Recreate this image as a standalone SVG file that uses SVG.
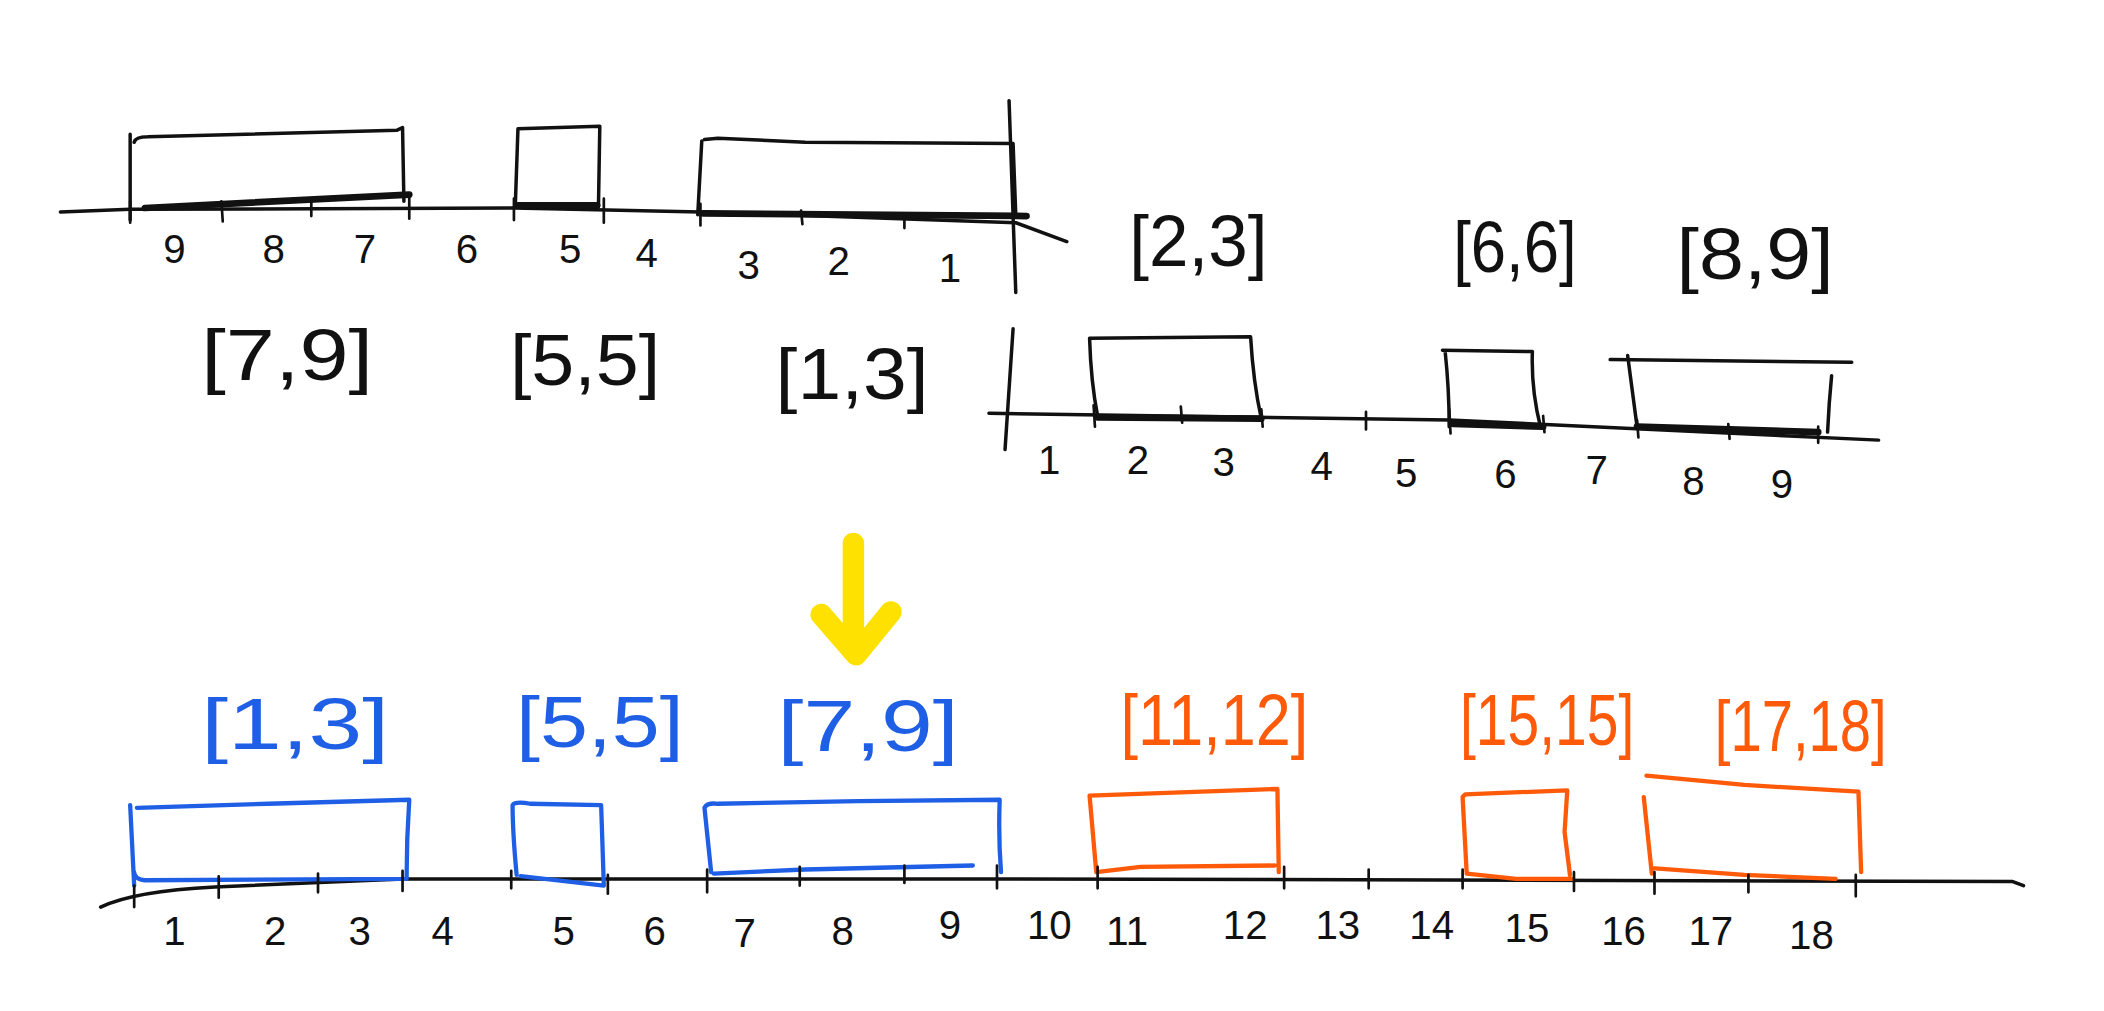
<svg xmlns="http://www.w3.org/2000/svg" width="2104" height="1011" viewBox="0 0 2104 1011">
<style>
.k{fill:none;stroke:#111;stroke-width:2.6;stroke-linecap:round;stroke-linejoin:round}
.kt{fill:none;stroke:#111;stroke-width:5;stroke-linecap:round}
.tk{fill:none;stroke:#111;stroke-width:2;stroke-linecap:round}
.b{fill:none;stroke:#1f5fe6;stroke-width:3.2;stroke-linecap:round;stroke-linejoin:round}
.o{fill:none;stroke:#ff5a0a;stroke-width:3.2;stroke-linecap:round;stroke-linejoin:round}
.n{font-family:"Liberation Sans",Arial,sans-serif;font-size:30px;fill:#111;text-anchor:middle}
.lb{font-family:"Liberation Sans",Arial,sans-serif;font-size:54px;text-anchor:middle}
</style>
<rect width="2104" height="1011" fill="#fff"/>
<g transform="scale(1.34184)">
<!-- connectors / axes -->
<g id="connectors">
<path class="k" d="M45,158 L97,156 L383,155 L522,158 L757,166 L795,180"/>
<path class="k" d="M752,75 L757,218"/>
<path class="k" d="M755,245 L749,335"/>
<path class="k" d="M737,308 L1080,313 L1400,328"/>
<path class="k" d="M75,676 Q100,664 160,661 L300,655 L760,655 L1500,657 L1508,660"/>
<path d="M636,405 L636,478 M612,458 L638,488 L664,456" fill="none" stroke="#ffe100" stroke-width="16" stroke-linecap="round" stroke-linejoin="round"/>
</g>
<!-- top-left chart -->
<g id="top-left-chart">
<g id="tl-box-7-9"><path class="k" d="M97,100 L97,164 M100,106 Q101,102 110,102 L296,97 L300,95 L301,150"/><path class="kt" d="M108,155 L305,145"/></g>
<g id="tl-box-5"><path class="k" d="M386,96 L384,154 M386,96 L447,94 L446,154"/><path class="kt" d="M386,153 L445,153"/></g>
<g id="tl-box-1-3"><path class="k" d="M523,105 L520,160 M525,104 L535,103 L600,106 L755,107 L757,160"/><path class="kt" d="M524,159 L765,161"/></g>
<path class="tk" d="M97,150 L97,166 M165,150 L166,165 M232,150 L232,161 M305,145 L305,163 M383,148 L383,164 M450,148 L450,166 M522,152 L522,168 M597,157 L598,167 M674,160 L674,170"/>
<text class="n" x="130" y="196">9</text><text class="n" x="204" y="196">8</text><text class="n" x="272" y="196">7</text><text class="n" x="348" y="196">6</text><text class="n" x="425" y="196">5</text><text class="n" x="482" y="199">4</text><text class="n" x="558" y="208">3</text><text class="n" x="625" y="205">2</text><text class="n" x="708" y="210">1</text>
<text class="lb" x="214" y="283" fill="#111" textLength="128" lengthAdjust="spacingAndGlyphs">[7,9]</text>
<text class="lb" x="436" y="287" fill="#111" textLength="112" lengthAdjust="spacingAndGlyphs">[5,5]</text>
<text class="lb" x="635" y="297" fill="#111" textLength="114" lengthAdjust="spacingAndGlyphs">[1,3]</text>
</g>
<!-- top-right chart -->
<g id="top-right-chart">
<g id="tr-box-2-3"><path class="k" d="M812,252 Q813,285 818,310 M812,252 L932,251 Q934,285 940,312"/><path class="kt" d="M818,311 L940,312"/></g>
<g id="tr-box-6"><path class="k" d="M1077,262 Q1080,290 1080,318 M1075,261 L1142,262 Q1141,290 1148,318"/><path class="kt" d="M1083,316 L1150,318"/></g>
<g id="tr-box-8-9"><path class="k" d="M1200,268 L1380,270 M1213,265 L1220,318 M1365,280 Q1363,300 1362,322"/><path class="kt" d="M1220,318 L1355,322"/></g>
<path class="tk" d="M815,302 L816,318 M880,303 L881,315 M940,305 L941,318 M1018,307 L1018,320 M1080,305 L1081,323 M1150,310 L1151,322 M1220,313 L1221,326 M1288,316 L1289,327 M1355,318 L1355,330"/>
<text class="n" x="782" y="353">1</text><text class="n" x="848" y="353">2</text><text class="n" x="912" y="355">3</text><text class="n" x="985" y="358">4</text><text class="n" x="1048" y="363">5</text><text class="n" x="1122" y="364">6</text><text class="n" x="1190" y="361">7</text><text class="n" x="1262" y="369">8</text><text class="n" x="1328" y="371">9</text>
<text class="lb" x="893" y="198" fill="#111" textLength="103" lengthAdjust="spacingAndGlyphs">[2,3]</text>
<text class="lb" x="1129" y="203" fill="#111" textLength="92" lengthAdjust="spacingAndGlyphs">[6,6]</text>
<text class="lb" x="1308" y="208" fill="#111" textLength="117" lengthAdjust="spacingAndGlyphs">[8,9]</text>
</g>
<!-- bottom chart -->
<g id="bottom-chart">
<g id="b-box-1-3"><path class="b" d="M97,600 L100,660 M102,602 L200,599 L305,596 Q303,625 303,655 L108,656 Q100,655 100,650"/></g>
<g id="b-box-5-5"><path class="b" d="M385,652 Q382,620 382,600 Q384,597 395,599 L448,600 L450,660 L388,653"/></g>
<g id="b-box-7-9"><path class="b" d="M530,650 L525,602 Q527,598 535,599 L640,597 L745,596 Q744,625 746,650 M532,651 L600,648 L725,645"/></g>
<g id="b-box-11-12"><path class="o" d="M817,650 L812,593 L952,588 L953,650 M817,650 L850,646 L950,645"/></g>
<g id="b-box-15-15"><path class="o" d="M1093,650 L1090,594 L1092,592 L1168,589 L1166,620 L1170,652 M1093,651 L1130,655 L1172,655"/></g>
<g id="b-box-17-18"><path class="o" d="M1227,578 L1300,585 L1385,590 L1387,650 M1225,594 L1231,651 M1231,647 L1300,652 L1368,655"/></g>
<path class="tk" d="M100,660 L100,676 M163,653 L163,669 M237,651 L237,665 M300,649 L300,664 M381,649 L381,662 M453,652 L453,666 M527,648 L527,665 M596,646 L596,660 M674,645 L674,658 M743,645 L743,662 M818,646 L818,662 M957,646 L957,662 M1020,648 L1020,662 M1090,648 L1090,662 M1173,650 L1173,664 M1233,650 L1233,666 M1303,652 L1303,665 M1383,652 L1383,668"/>
<g class="n"><text x="130" y="704">1</text><text x="205" y="704">2</text><text x="268" y="704">3</text><text x="330" y="704">4</text><text x="420" y="704">5</text><text x="488" y="704">6</text><text x="555" y="706">7</text><text x="628" y="704">8</text><text x="708" y="700">9</text><text x="782" y="700">10</text><text x="840" y="704">11</text><text x="928" y="700">12</text><text x="997" y="700">13</text><text x="1067" y="700">14</text><text x="1138" y="702">15</text><text x="1210" y="704">16</text><text x="1275" y="704">17</text><text x="1350" y="707">18</text></g>
<text class="lb" x="220" y="558" fill="#1f5fe6" textLength="140" lengthAdjust="spacingAndGlyphs">[1,3]</text>
<text class="lb" x="447" y="557" fill="#1f5fe6" textLength="125" lengthAdjust="spacingAndGlyphs">[5,5]</text>
<text class="lb" x="647" y="560" fill="#1f5fe6" textLength="135" lengthAdjust="spacingAndGlyphs">[7,9]</text>
<text class="lb" x="905" y="555" fill="#ff5a0a" textLength="140" lengthAdjust="spacingAndGlyphs">[11,12]</text>
<text class="lb" x="1153" y="555" fill="#ff5a0a" textLength="130" lengthAdjust="spacingAndGlyphs">[15,15]</text>
<text class="lb" x="1342" y="560" fill="#ff5a0a" textLength="128" lengthAdjust="spacingAndGlyphs">[17,18]</text>
</g>
</g>
</svg>
